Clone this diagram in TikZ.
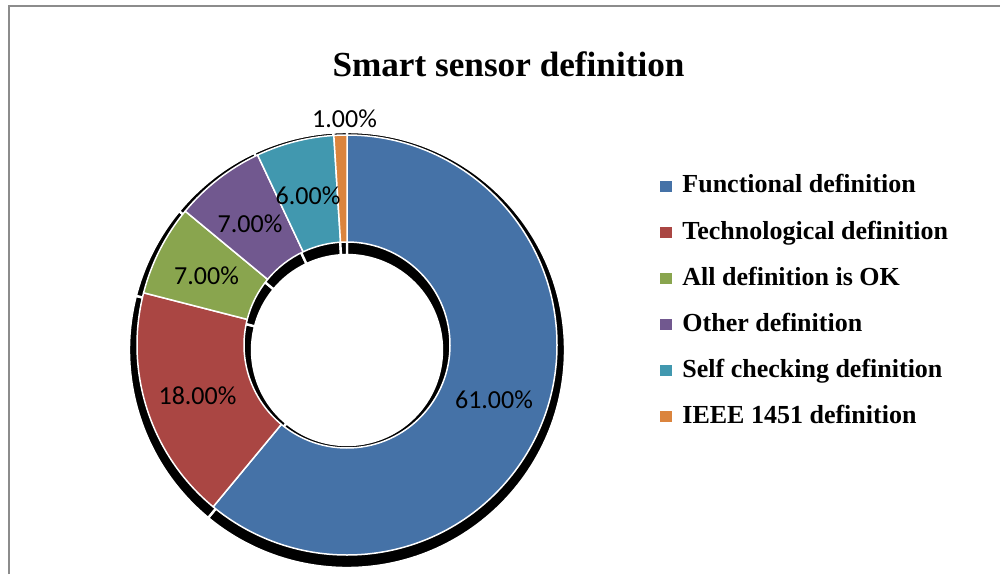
\documentclass[tikz,border=0pt]{standalone}
\usepackage{fontspec}
\setmainfont{Liberation Serif}
\newfontfamily\pctfont{Carlito}
\usetikzlibrary{calc}

\definecolor{cBlue}{HTML}{4572A7}
\definecolor{cRed}{HTML}{AA4643}
\definecolor{cGreen}{HTML}{89A54E}
\definecolor{cPurple}{HTML}{71588F}
\definecolor{cTeal}{HTML}{4198AF}
\definecolor{cOrange}{HTML}{DB843D}
\definecolor{frameGray}{HTML}{8C8C8C}

% annular sector: style, centre, outer radius, inner radius, start angle, end angle
\newcommand{\annsector}[6]{%
  \path[#1] ($(#2)+(#5:#3)$) arc[start angle=#5, end angle=#6, radius=#3]
    -- ($(#2)+(#6:#4)$) arc[start angle=#6, end angle=#5, radius=#4] -- cycle;}

\tikzset{
  slice/.style={draw=white, line width=0.75pt, line join=round},
  shadowpart/.style={fill=black, draw=white, line width=1.2pt},
  pct/.style={font=\pctfont\fontsize{13}{15}\selectfont, text=black, anchor=base, inner sep=0pt},
  legbox/.style={minimum width=6pt, minimum height=5.5pt, inner sep=0pt, draw=none},
  legtext/.style={font=\bfseries\fontsize{13}{15}\selectfont, anchor=base west, inner sep=0pt},
  charttitle/.style={font=\bfseries\fontsize{17.6}{20}\selectfont, anchor=base, inner sep=0pt}
}

\begin{document}
\begin{tikzpicture}[x=0.5pt, y=0.5pt]
\useasboundingbox (0,0) rectangle (1000,574);

% chart frame
\draw[frameGray, line width=1pt] (9,0) -- (9,567.5) -- (1000,567.5);

\node[charttitle] (title) at (508.5,497.3) {Smart sensor definition};

\coordinate (ctr) at (347,229);
\coordinate (sh) at (347,224);

% drop shadow of the ring
\annsector{shadowpart}{sh}{218}{95}{90}{-129.6}
\annsector{shadowpart}{sh}{218}{95}{-129.6}{-194.4}
\annsector{shadowpart}{sh}{218}{95}{-194.4}{-219.6}
\annsector{shadowpart}{sh}{218}{95}{-219.6}{-244.8}
\annsector{shadowpart}{sh}{218}{95}{-244.8}{-266.4}
\annsector{shadowpart}{sh}{218}{95}{-266.4}{-270}

% ring slices, clockwise from the top
\annsector{slice, fill=cBlue}{ctr}{210}{103}{90}{-129.6}
\annsector{slice, fill=cRed}{ctr}{210}{103}{-129.6}{-194.4}
\annsector{slice, fill=cGreen}{ctr}{210}{103}{-194.4}{-219.6}
\annsector{slice, fill=cPurple}{ctr}{210}{103}{-219.6}{-244.8}
\annsector{slice, fill=cTeal}{ctr}{210}{103}{-244.8}{-266.4}
\annsector{slice, fill=cOrange}{ctr}{210}{103}{-266.4}{-270}

% data labels
\node[pct] (p1) at (494,166) {61.00\%};
\node[pct] (p2) at (197.5,170) {18.00\%};
\node[pct] (p3) at (206.5,290) {7.00\%};
\node[pct] (p4) at (250,342) {7.00\%};
\node[pct] (p5) at (308,370) {6.00\%};
\node[pct] (p6) at (344.5,446) {1.00\%};

% legend
\foreach \c/\t [count=\i] in {cBlue/Functional definition,
    cRed/Technological definition,
    cGreen/All definition is OK,
    cPurple/Other definition,
    cTeal/Self checking definition,
    cOrange/IEEE 1451 definition}{
  \node[legbox, fill=\c] (lb\i) at (666,{387.5-46*(\i-1)}) {};
  \node[legtext] (lt\i) at (682,{381-46*(\i-1)}) {\t};
}
\end{tikzpicture}
\end{document}
